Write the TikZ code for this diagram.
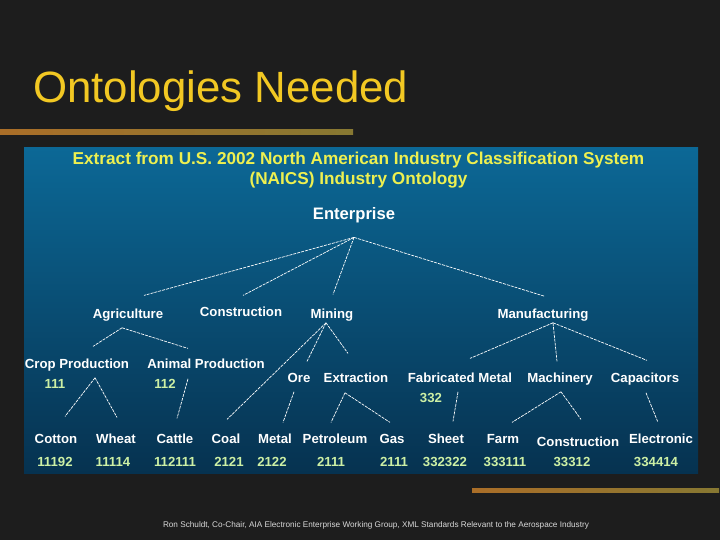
\documentclass[tikz,border=0pt]{standalone}
\usepackage{fontspec}
\setmainfont{Liberation Sans}
\usetikzlibrary{positioning}
\definecolor{slidebg}{RGB}{29,29,29}
\definecolor{titlegold}{RGB}{242,200,35}
\definecolor{headyellow}{RGB}{238,240,80}
\definecolor{codegreen}{RGB}{205,240,165}
\definecolor{paneltop}{RGB}{12,104,150}
\definecolor{panelbot}{RGB}{6,50,80}
\definecolor{rustA}{RGB}{170,110,40}
\definecolor{rustB}{RGB}{150,45,25}
\definecolor{rustC}{RGB}{135,120,50}

\begin{document}
\begin{tikzpicture}[x=1pt, y=-1pt,
    lbl/.style={font=\fontsize{13.2}{15}\selectfont\bfseries, text=white, inner sep=0pt, text height=9.4pt, text depth=2.6pt, anchor=base},
    code/.style={lbl, text=codegreen},
    head/.style={font=\fontsize{17.2}{19}\selectfont\bfseries, text=headyellow, inner sep=0pt, anchor=base},
    link/.style={white, line width=0.7pt, dash pattern=on 3pt off 1pt}]
    \useasboundingbox (0,0) rectangle (720,540);
    \fill[slidebg] (0,0) rectangle (720,540);

    % slide title and ornament bars
    \node[font=\fontsize{43.8}{48}\selectfont, text=titlegold, inner sep=0pt, anchor=base west] (title) at (33,103) {Ontologies Needed};
    \shade[left color=rustA, middle color=rustB, right color=rustC] (0,130) rectangle (353,134.5);
    \shade[left color=rustA, middle color=rustB, right color=rustC] (472,488) rectangle (719,492);

    % blue panel
    \shade[top color=paneltop, bottom color=panelbot] (24,148) rectangle (698,473);
    \node[head] (head1) at (358.5,165) {Extract from U.S. 2002 North American Industry Classification System};
    \node[head] (head2) at (358.5,185) {(NAICS) Industry Ontology};

    \node[lbl, font=\fontsize{16.6}{19}\selectfont\bfseries, text height=11.5pt, text depth=3.2pt] (ent) at (354,219) {Enterprise};

    % first level
    \node[lbl] (agr) at (128,318) {Agriculture};
    \node[lbl] (con) at (241,316) {Construction};
    \node[lbl] (min) at (332,318) {Mining};
    \node[lbl] (man) at (543,318) {Manufacturing};

    % second level
    \node[lbl] (crop) at (77,368) {Crop Production};
    \node[lbl] (anim) at (206,368) {Animal Production};
    \node[code] (c111) at (55,388) {111};
    \node[code] (c112) at (165,388) {112};
    \node[lbl] (ore) at (299,382) {Ore};
    \node[lbl] (ext) at (356,382) {Extraction};
    \node[lbl] (fab) at (460,382) {Fabricated Metal};
    \node[code] (c332) at (431,402) {332};
    \node[lbl] (mach) at (560,382) {Machinery};
    \node[lbl] (cap) at (645,382) {Capacitors};

    % leaves
    \node[lbl] (cot) at (56,443) {Cotton};
    \node[lbl] (whe) at (116,443) {Wheat};
    \node[lbl] (cat) at (175,443) {Cattle};
    \node[lbl] (coa) at (226,443) {Coal};
    \node[lbl] (met) at (275,443) {Metal};
    \node[lbl] (pet) at (335,443) {Petroleum};
    \node[lbl] (gas) at (392,443) {Gas};
    \node[lbl] (she) at (446,443) {Sheet};
    \node[lbl] (far) at (503,443) {Farm};
    \node[lbl] (cons) at (578,446) {Construction};
    \node[lbl] (ele) at (661,443) {Electronic};

    \node[code] (k1) at (55,466) {11192};
    \node[code] (k2) at (113,466) {11114};
    \node[code] (k3) at (175,466) {112111};
    \node[code] (k4) at (229,466) {2121};
    \node[code] (k5) at (272,466) {2122};
    \node[code] (k6) at (331,466) {2111};
    \node[code] (k7) at (394,466) {2111};
    \node[code] (k8) at (445,466) {332322};
    \node[code] (k9) at (505,466) {333111};
    \node[code] (k10) at (572,466) {33312};
    \node[code] (k11) at (656,466) {334414};

    % tree links
    \draw[link] ([yshift=-15pt]ent.south) -- ([xshift=16pt,yshift=13pt]agr.north);
    \draw[link] ([yshift=-15pt]ent.south) -- ([xshift=2pt,yshift=11pt]con.north);
    \draw[link] ([yshift=-15pt]ent.south) -- ([xshift=1pt,yshift=14pt]min.north);
    \draw[link] ([yshift=-15pt]ent.south) -- ([xshift=2pt,yshift=12pt]man.north);

    \draw[link] ([xshift=-6pt,yshift=-7pt]agr.south) -- ([xshift=16pt,yshift=12pt]crop.north);
    \draw[link] ([xshift=-6pt,yshift=-7pt]agr.south) -- ([xshift=-18pt,yshift=10pt]anim.north);
    \draw[link] ([xshift=18pt,yshift=-7pt]crop.south) -- ([xshift=9pt,yshift=17pt]cot.north);
    \draw[link] ([xshift=18pt,yshift=-7pt]crop.south) -- ([xshift=1pt,yshift=16pt]whe.north);
    \draw[link] ([xshift=-18pt,yshift=-8pt]anim.south) -- ([xshift=2pt,yshift=15pt]cat.north);

    \draw[link] ([xshift=-6pt,yshift=-2pt]min.south) -- ([xshift=1pt,yshift=14pt]coa.north);
    \draw[link] ([xshift=-6pt,yshift=-2pt]min.south) -- ([xshift=8pt,yshift=11pt]ore.north);
    \draw[link] ([xshift=-6pt,yshift=-2pt]min.south) -- ([xshift=-8pt,yshift=19pt]ext.north);
    \draw[link] ([xshift=-5pt,yshift=-7pt]ore.south) -- ([xshift=8pt,yshift=11pt]met.north);
    \draw[link] ([xshift=-11pt,yshift=-8pt]ext.south) -- ([xshift=-4pt,yshift=11pt]pet.north);
    \draw[link] ([xshift=-11pt,yshift=-8pt]ext.south) -- ([xshift=-2pt,yshift=11pt]gas.north);

    \draw[link] ([xshift=10pt,yshift=-2pt]man.south) -- ([xshift=10pt,yshift=14pt]fab.north);
    \draw[link] ([xshift=10pt,yshift=-2pt]man.south) -- ([xshift=-3pt,yshift=11pt]mach.north);
    \draw[link] ([xshift=10pt,yshift=-2pt]man.south) -- ([xshift=2pt,yshift=12pt]cap.north);
    \draw[link] ([xshift=-2pt,yshift=-7pt]fab.south) -- ([xshift=7pt,yshift=12pt]she.north);
    \draw[link] ([xshift=1pt,yshift=-7pt]mach.south) -- ([xshift=9pt,yshift=11pt]far.north);
    \draw[link] ([xshift=1pt,yshift=-7pt]mach.south) -- ([xshift=3pt,yshift=17pt]cons.north);
    \draw[link] ([xshift=1pt,yshift=-8pt]cap.south) -- ([xshift=-3pt,yshift=11pt]ele.north);

    % footer
    \node[font=\fontsize{8.2}{9}\selectfont, text=white!85!black, inner sep=0pt] (foot) at (376,525) {Ron Schuldt, Co-Chair, AIA Electronic Enterprise Working Group, XML Standards Relevant to the Aerospace Industry};
\end{tikzpicture}
\end{document}
